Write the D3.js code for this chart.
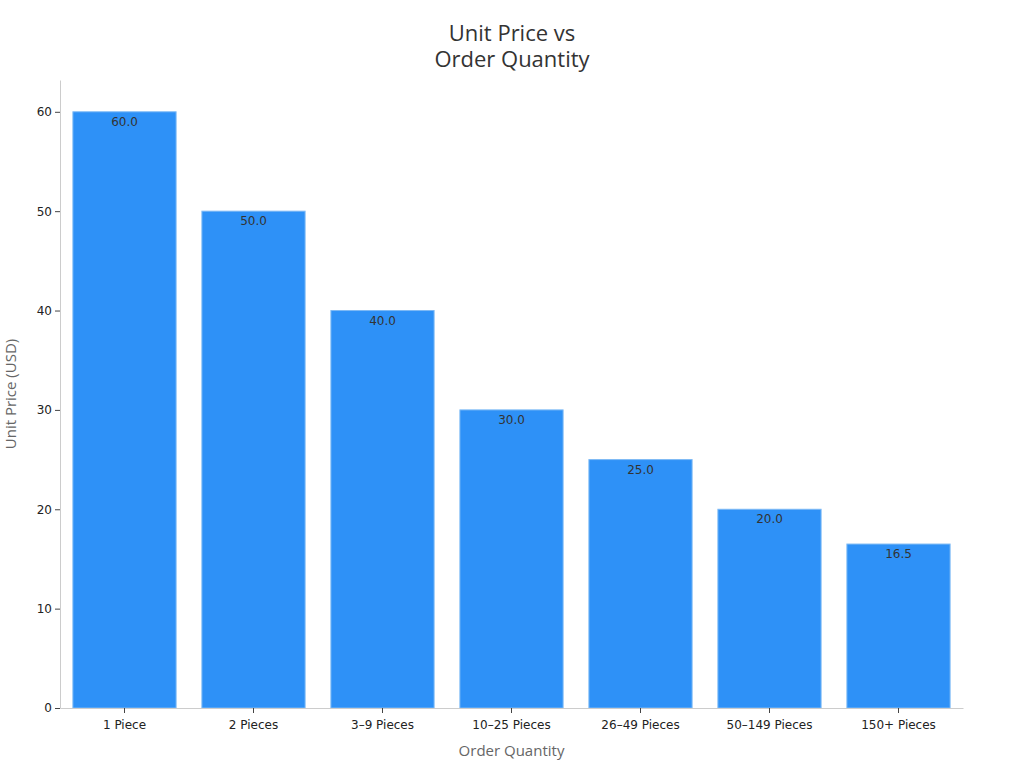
<!DOCTYPE html>
<html>
<head>
<meta charset="utf-8">
<script src="https://cdn.jsdelivr.net/npm/d3@7"></script>
<style>
  body { margin: 0; background: #fff; }
</style>
</head>
<body>
<div id="chart"></div>
<script>
var categories = ["1 Piece", "2 Pieces", "3\u20139 Pieces", "10\u201325 Pieces", "26\u201349 Pieces", "50\u2013149 Pieces", "150+ Pieces"];
var prices = [60.0, 50.0, 40.0, 30.0, 25.0, 20.0, 16.5];
var yTicks = [0, 10, 20, 30, 40, 50, 60];

var width = 1024;
var height = 768;
var margin = {top: 80, right: 61, bottom: 60, left: 60};

var svg = d3.select("#chart")
  .append("svg")
  .attr("width", width)
  .attr("height", height);

var x = d3.scaleBand()
  .domain(categories)
  .range([margin.left, width - margin.right])
  .paddingInner(0.2)
  .paddingOuter(0.1);

var y = d3.scaleLinear()
  .domain([0, 63.2])
  .range([height - margin.bottom, margin.top]);

// title, two lines
["Unit Price vs", "Order Quantity"].forEach(function(t, i) {
  svg.append("text")
    .attr("x", 512)
    .attr("y", 41 + i * 26)
    .attr("text-anchor", "middle")
    .style("font-family", "'Open Sans', sans-serif")
    .style("font-size", "22px")
    .style("fill", "#333")
    .text(t);
});

// bars
svg.selectAll("rect.bar")
  .data(prices)
  .enter()
  .append("rect")
  .attr("class", "bar")
  .attr("x", (d, i) => x(categories[i]))
  .attr("y", d => y(d))
  .attr("width", x.bandwidth())
  .attr("height", d => y(0) - y(d))
  .attr("fill", "#2e91f7")
  .attr("stroke", "#7db9f5")
  .attr("stroke-width", 1);

// value labels
svg.selectAll("text.val")
  .data(prices)
  .enter()
  .append("text")
  .attr("class", "val")
  .attr("x", (d, i) => x(categories[i]) + x.bandwidth() / 2)
  .attr("y", d => y(d) + 14)
  .attr("text-anchor", "middle")
  .style("font-family", "'DejaVu Sans', sans-serif")
  .style("font-size", "12px")
  .style("fill", "#333")
  .text(d => d.toFixed(1));

// axes
var xAxis = svg.append("g")
  .attr("transform", "translate(0," + y(0) + ")")
  .call(d3.axisBottom(x).tickSize(5).tickSizeOuter(0));
var yAxis = svg.append("g")
  .attr("transform", "translate(" + margin.left + ",0)")
  .call(d3.axisLeft(y).tickValues(yTicks).tickSize(5).tickSizeOuter(0));

[xAxis, yAxis].forEach(function(a) {
  a.select(".domain").attr("stroke", "#ccc");
  a.selectAll(".tick line").attr("stroke", "#444");
  a.selectAll(".tick text")
    .style("font-family", "'DejaVu Sans', sans-serif")
    .style("font-size", "12px")
    .style("fill", "#222");
});
xAxis.selectAll(".tick text").attr("dy", "1.05em");

svg.append("text")
  .attr("x", x.range()[0] + (x.range()[1] - x.range()[0]) / 2)
  .attr("y", 756)
  .attr("text-anchor", "middle")
  .style("font-family", "'Open Sans', sans-serif")
  .style("font-size", "15px")
  .style("fill", "#666")
  .text("Order Quantity");

svg.append("text")
  .attr("transform", "translate(16," + ((margin.top + height - margin.bottom) / 2) + ") rotate(-90)")
  .attr("text-anchor", "middle")
  .style("font-family", "'Open Sans', sans-serif")
  .style("font-size", "15px")
  .style("fill", "#666")
  .text("Unit Price (USD)");
</script>
</body>
</html>
